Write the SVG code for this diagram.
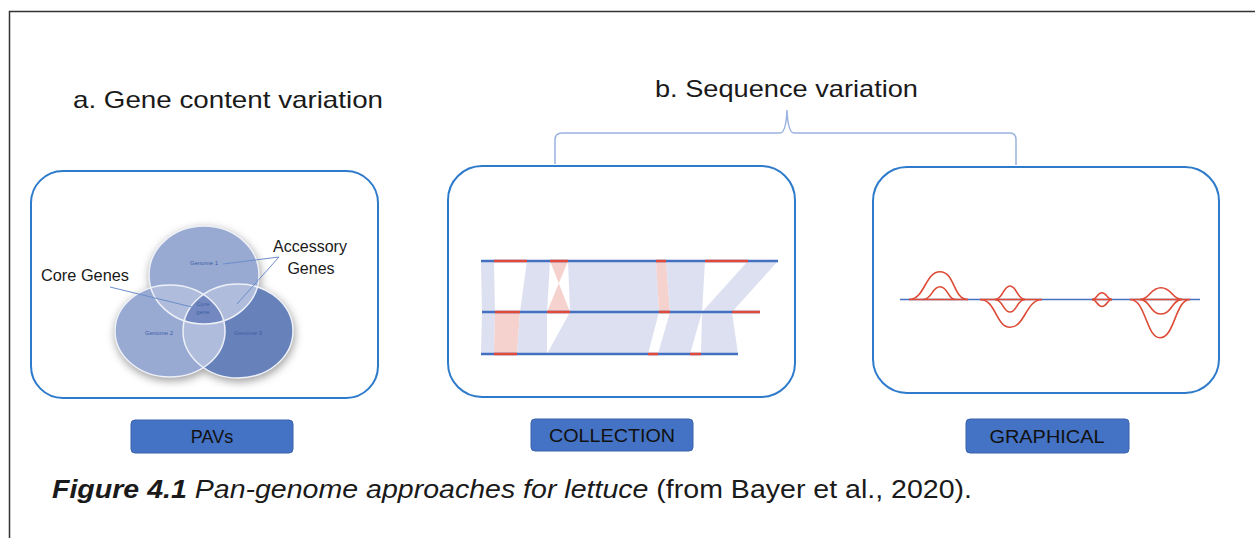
<svg xmlns="http://www.w3.org/2000/svg" width="1255" height="538" viewBox="0 0 1255 538">
<style>
.t{font-family:"Liberation Sans",Arial,sans-serif;fill:#1a1a1a}
.panel{fill:#fff;stroke:#2E7BCB;stroke-width:2}
.btn{fill:#4472C4;stroke:#3A63AD;stroke-width:1}
.bt{font-family:"Liberation Sans",Arial,sans-serif;font-size:18px;fill:#111;text-anchor:middle}
.vt{font-family:"Liberation Sans",Arial,sans-serif;font-size:6px;fill:#3D5FA5;text-anchor:middle}
.lead{stroke:#6B8DCB;stroke-width:1;fill:none}
.bl{fill:#DCE0F0}
.pk{fill:#F5D2CE}
.bline{stroke:#4470C2;stroke-width:2.5;fill:none}
.rline{stroke:#E04A3A;stroke-width:2.5;fill:none}
.rc{stroke:#DD4A35;stroke-width:1.6;fill:none}
</style>
<defs>
<clipPath id="k1"><ellipse cx="204" cy="275" rx="55" ry="49"/></clipPath>
<clipPath id="k2"><ellipse cx="170" cy="331" rx="55" ry="46"/></clipPath>
<clipPath id="k3"><ellipse cx="238" cy="331" rx="55" ry="47"/></clipPath>
<filter id="sh" x="-30%" y="-30%" width="160%" height="160%"><feGaussianBlur stdDeviation="4"/></filter>
</defs>
<rect width="1255" height="538" fill="#fff"/>
<g id="frame"><path d="M9.5,538 V11.5 H1255" fill="none" stroke="#333" stroke-width="1.5"/></g>

<g id="title-a"><text class="t" x="73" y="108" font-size="24" textLength="310" lengthAdjust="spacingAndGlyphs">a. Gene content variation</text></g>
<g id="title-b"><text class="t" x="655" y="97" font-size="24" textLength="263" lengthAdjust="spacingAndGlyphs">b. Sequence variation</text></g>

<g id="connectors">
<path d="M555,164 V140 Q555,133 562,133 H780 Q786,133 787,110 Q788,133 794,133 H1010 Q1016,133 1016,140 V165" fill="none" stroke="#9AB2DE" stroke-width="1.5"/>
</g>

<g id="panel-pav">
<rect class="panel" x="31" y="171" width="347" height="227" rx="32"/>
<g filter="url(#sh)" opacity="0.55">
<ellipse cx="205" cy="278" rx="56" ry="50" fill="#555"/>
<ellipse cx="171" cy="334" rx="56" ry="47" fill="#555"/>
<ellipse cx="239" cy="334" rx="56" ry="48" fill="#555"/>
</g>
<ellipse cx="204" cy="275" rx="55" ry="49" fill="#98AAD2"/>
<ellipse cx="170" cy="331" rx="55" ry="46" fill="#98AAD2"/>
<ellipse cx="238" cy="331" rx="55" ry="47" fill="#6781BB"/>
<g clip-path="url(#k1)"><ellipse cx="170" cy="331" rx="55" ry="46" fill="#AFBCDC"/><ellipse cx="238" cy="331" rx="55" ry="47" fill="#AFBCDC"/></g>
<g clip-path="url(#k2)"><ellipse cx="238" cy="331" rx="55" ry="47" fill="#AFBCDC"/></g>
<g clip-path="url(#k1)"><g clip-path="url(#k2)"><ellipse cx="238" cy="331" rx="55" ry="47" fill="#7388C0"/></g></g>
<g fill="none" stroke="#EEF1F8" stroke-width="1.5">
<ellipse cx="204" cy="275" rx="55" ry="49"/>
<ellipse cx="170" cy="331" rx="55" ry="46"/>
<ellipse cx="238" cy="331" rx="55" ry="47"/>
</g>
<text class="vt" x="204" y="265">Genome 1</text>
<text class="vt" x="159" y="335">Genome 2</text>
<text class="vt" x="248" y="335">Genome 3</text>
<text class="vt" x="203" y="306">Core</text>
<text class="vt" x="203" y="314">gene</text>
<path class="lead" d="M110,287 L196,308"/>
<path class="lead" d="M279,257 L223,264 M279,257 L237,304"/>
<text class="t" x="41" y="281" font-size="16" textLength="88" lengthAdjust="spacingAndGlyphs">Core Genes</text>
<text class="t" x="310" y="252" font-size="16" text-anchor="middle">Accessory</text>
<text class="t" x="311" y="274" font-size="16" text-anchor="middle">Genes</text>
</g>

<g id="panel-collection">
<rect class="panel" x="448" y="166" width="347" height="231" rx="34"/>
<polygon class="bl" points="481,261 494,261 495,312 482,312"/>
<polygon class="bl" points="527,261 550,261 547,312 520,312"/>
<polygon class="pk" points="550,261 570,312 547,312 568,261"/>
<polygon class="bl" points="568,261 656,261 659,312 570,312"/>
<polygon class="pk" points="656,261 666,261 670,312 659,312"/>
<polygon class="bl" points="666,261 705,261 702,312 670,312"/>
<polygon class="bl" points="748,261 778,261 732,312 702,312"/>
<polygon class="bl" points="482,312 495,312 494,354 481,354"/>
<polygon class="pk" points="495,312 520,312 517,354 494,354"/>
<polygon class="bl" points="520,312 547,312 547,354 517,354"/>
<polygon class="bl" points="570,312 659,312 648,354 547,354"/>
<polygon class="bl" points="670,312 702,312 690,354 658,354"/>
<polygon class="bl" points="702,312 732,312 738,354 701,354"/>
<path class="bline" d="M481,261 H778 M482,312 H760 M481,354 H738"/>
<path class="rline" d="M494,261 H527 M550,261 H568 M656,261 H666 M705,261 H748"/>
<path class="rline" d="M495,312 H520 M547,312 H570 M659,312 H670 M732,312 H760"/>
<path class="rline" d="M494,354 H517 M648,354 H658 M690,354 H701"/>
</g>

<g id="panel-graphical">
<rect class="panel" x="873" y="167" width="346" height="226" rx="34"/>
<path d="M900,299.5 H1200" stroke="#4470C2" stroke-width="1.6" fill="none"/>
<path class="rc" d="M909,299.5 H968 M980,299.5 H1042 M1092,299.5 H1112 M1130,299.5 H1190"/>
<path class="rc" d="M909,299.5 C925,299.5 925,271.7 940,271.7 C955,271.7 953,299.5 968,299.5"/>
<path class="rc" d="M923,299.5 C932,299.5 932,286.7 940,286.7 C948,286.7 948,299.5 955,299.5"/>
<path class="rc" d="M995,299.5 C1003,299.5 1003,286 1010,286 C1017,286 1017,299.5 1025,299.5"/>
<path class="rc" d="M995,299.5 C1003,299.5 1003,312 1010,312 C1017,312 1017,299.5 1025,299.5"/>
<path class="rc" d="M980,299.5 C996,299.5 996,327.3 1010,327.3 C1025,327.3 1026,299.5 1042,299.5"/>
<path class="rc" d="M1092,299.5 C1097,299.5 1097,292.7 1102,292.7 C1107,292.7 1107,299.5 1112,299.5"/>
<path class="rc" d="M1092,299.5 C1097,299.5 1097,306.5 1102,306.5 C1107,306.5 1107,299.5 1112,299.5"/>
<path class="rc" d="M1140,299.5 C1150,299.5 1150,287.7 1161,287.7 C1172,287.7 1172,299.5 1182,299.5"/>
<path class="rc" d="M1140,299.5 C1150,299.5 1150,314 1161,314 C1172,314 1172,299.5 1182,299.5"/>
<path class="rc" d="M1130,299.5 C1146,299.5 1146,337.7 1160,337.7 C1175,337.7 1175,299.5 1190,299.5"/>
</g>

<g id="btn-pavs"><rect class="btn" x="131" y="420" width="162" height="33" rx="4"/><text class="bt" x="212" y="443">PAVs</text></g>
<g id="btn-collection"><rect class="btn" x="531" y="419" width="162" height="32" rx="4"/><text class="bt" x="612" y="442" textLength="126" lengthAdjust="spacingAndGlyphs">COLLECTION</text></g>
<g id="btn-graphical"><rect class="btn" x="966" y="419" width="163" height="34" rx="4"/><text class="bt" x="1047" y="443" textLength="115" lengthAdjust="spacingAndGlyphs">GRAPHICAL</text></g>

<g id="caption"><text class="t" x="52" y="498" font-size="25" fill="#000" textLength="920" lengthAdjust="spacingAndGlyphs"><tspan font-weight="bold" font-style="italic">Figure 4.1</tspan><tspan font-style="italic"> Pan-genome approaches for lettuce</tspan> (from Bayer et al., 2020).</text></g>
</svg>
